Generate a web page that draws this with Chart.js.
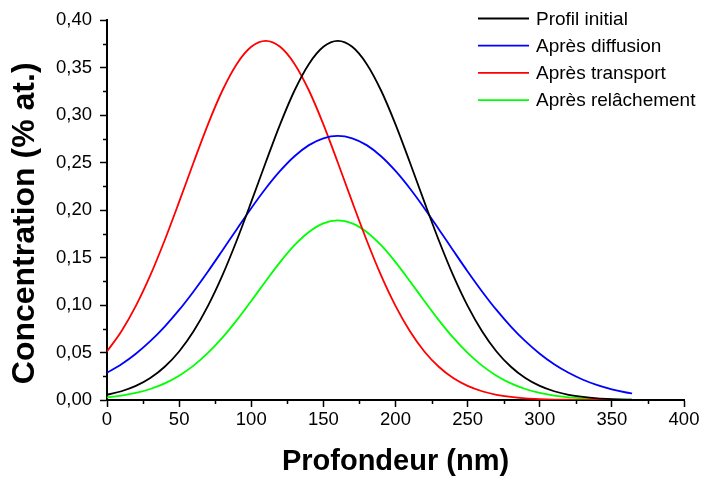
<!DOCTYPE html>
<html lang="fr">
<head>
    <meta charset="UTF-8">
    <title>Profils de concentration</title>
    <script src="https://cdn.jsdelivr.net/npm/chart.js"></script>
    <style>
        html, body { margin: 0; padding: 0; background: #fff; }
        canvas { display: block; }
    </style>
</head>
<body>
    <canvas id="profileChart" width="702" height="477"></canvas>

    <script>
        // Profondeur (nm)
        const depth = [0, 10, 20, 30, 40, 50, 60, 70, 80, 90, 100, 110, 120, 130, 140, 150, 160, 170, 180, 190,
                       200, 210, 220, 230, 240, 250, 260, 270, 280, 290, 300, 310, 320, 330, 340, 350, 360, 364];

        // Concentration (% at.)
        const profilInitial = [0.0055, 0.0092, 0.0148, 0.0231, 0.0350, 0.0511, 0.0724, 0.0991, 0.1312, 0.1682,
                               0.2085, 0.2500, 0.2902, 0.3258, 0.3538, 0.3718, 0.3780, 0.3718, 0.3538, 0.3258,
                               0.2902, 0.2500, 0.2085, 0.1682, 0.1312, 0.0991, 0.0724, 0.0511, 0.0350, 0.0231,
                               0.0148, 0.0092, 0.0055, 0.0032, 0.0018, 0.0010, 0.0005, 0.0004];
        const apresDiffusion = [0.0286, 0.0376, 0.0487, 0.0619, 0.0773, 0.0948, 0.1143, 0.1353, 0.1574, 0.1798,
                                0.2019, 0.2226, 0.2411, 0.2566, 0.2683, 0.2755, 0.2780, 0.2755, 0.2683, 0.2566,
                                0.2411, 0.2226, 0.2019, 0.1798, 0.1574, 0.1353, 0.1143, 0.0948, 0.0773, 0.0619,
                                0.0487, 0.0376, 0.0286, 0.0213, 0.0156, 0.0112, 0.0079, 0.0069];
        const apresTransport = [0.0511, 0.0724, 0.0991, 0.1312, 0.1682, 0.2085, 0.2500, 0.2902, 0.3258, 0.3538,
                                0.3718, 0.3780, 0.3718, 0.3538, 0.3258, 0.2902, 0.2500, 0.2085, 0.1682, 0.1312,
                                0.0991, 0.0724, 0.0511, 0.0350, 0.0231, 0.0148, 0.0092, 0.0055, 0.0032, 0.0018,
                                0.0010, 0.0005, 0.0003, 0.0001, 0.0001, 0.0000, 0.0000, 0.0000];
        const apresRelachement = [0.0028, 0.0046, 0.0074, 0.0116, 0.0175, 0.0256, 0.0362, 0.0496, 0.0656, 0.0841,
                                  0.1043, 0.1250, 0.1451, 0.1629, 0.1769, 0.1859, 0.1890, 0.1859, 0.1769, 0.1629,
                                  0.1451, 0.1250, 0.1043, 0.0841, 0.0656, 0.0496, 0.0362, 0.0256, 0.0175, 0.0116,
                                  0.0074, 0.0046, 0.0028, 0.0016, 0.0009, 0.0005, 0.0003, 0.0002];

        const seriesLabels = ['Profil initial', 'Après diffusion', 'Après transport', 'Après relâchement'];
        const seriesColors = ['#000000', '#0000FF', '#FF0000', '#00FF00'];
        const seriesValues = [profilInitial, apresDiffusion, apresTransport, apresRelachement];

        const xTickStep = 50, xMinorStep = 25;
        const yTickStep = 0.05, yMinorStep = 0.025;

        const FONT = '"Liberation Sans", Arial, sans-serif';

        // Short minor ticks between the labelled ones
        const minorTicks = {
            id: 'minorTicks',
            afterDraw(chart) {
                const ctx = chart.ctx;
                const xs = chart.scales.x, ys = chart.scales.y;
                ctx.save();
                ctx.strokeStyle = '#000';
                ctx.lineWidth = 1.5;
                ctx.beginPath();
                for (let v = xs.min + xMinorStep; v < xs.max; v += xTickStep) {
                    const px = Math.round(xs.getPixelForValue(v)) + 0.5;
                    ctx.moveTo(px, xs.top);
                    ctx.lineTo(px, xs.top + 4);
                }
                for (let v = ys.min + yMinorStep; v < ys.max; v += yTickStep) {
                    const py = Math.round(ys.getPixelForValue(v)) + 0.5;
                    ctx.moveTo(ys.right, py);
                    ctx.lineTo(ys.right - 4, py);
                }
                ctx.stroke();
                ctx.restore();
            }
        };

        // Legend in the top right corner, one row per series
        const cornerLegend = {
            id: 'cornerLegend',
            afterDraw(chart) {
                const ctx = chart.ctx;
                ctx.save();
                ctx.font = '19px ' + FONT;
                ctx.textBaseline = 'middle';
                ctx.fillStyle = '#000';
                chart.data.datasets.forEach((ds, i) => {
                    const y = 18.5 + i * 27.2;
                    ctx.strokeStyle = ds.borderColor;
                    ctx.lineWidth = 1.8;
                    ctx.beginPath();
                    ctx.moveTo(478, y);
                    ctx.lineTo(529, y);
                    ctx.stroke();
                    ctx.fillText(ds.label, 536, y + 1);
                });
                ctx.restore();
            }
        };

        const ctx = document.getElementById('profileChart').getContext('2d');
        new Chart(ctx, {
            type: 'line',
            data: {
                datasets: seriesValues.map((vals, i) => ({
                    label: seriesLabels[i],
                    data: depth.map((d, j) => ({ x: d, y: vals[j] })),
                    borderColor: seriesColors[i],
                    backgroundColor: seriesColors[i],
                    borderWidth: 1.8,
                    pointRadius: 0,
                    fill: false,
                    cubicInterpolationMode: 'monotone'
                }))
            },
            options: {
                responsive: false,
                animation: false,
                devicePixelRatio: 1,
                layout: { padding: { top: 20, right: 18, left: 0, bottom: 0 } },
                plugins: {
                    legend: { display: false },
                    tooltip: { enabled: false }
                },
                scales: {
                    x: {
                        type: 'linear',
                        min: 0,
                        max: 400,
                        afterFit: scale => { scale.height = 77; },
                        border: { color: '#000', width: 2 },
                        grid: { drawOnChartArea: false, tickLength: 7, tickColor: '#000', tickWidth: 1.5 },
                        ticks: {
                            stepSize: xTickStep,
                            color: '#000',
                            padding: 2,
                            maxRotation: 0,
                            font: { family: FONT, size: 18.5 }
                        },
                        title: {
                            display: true,
                            text: 'Profondeur (nm)',
                            color: '#000',
                            font: { family: FONT, size: 29, weight: 'bold', lineHeight: 1 },
                            padding: { top: 0, bottom: 1 }
                        }
                    },
                    y: {
                        min: 0,
                        max: 0.4,
                        afterFit: scale => { scale.width = 107; },
                        border: { color: '#000', width: 2 },
                        grid: { drawOnChartArea: false, tickLength: 7, tickColor: '#000', tickWidth: 1.5 },
                        ticks: {
                            stepSize: yTickStep,
                            color: '#000',
                            padding: 8,
                            font: { family: FONT, size: 18.5 },
                            callback: v => v.toFixed(2).replace('.', ',')
                        },
                        title: {
                            display: true,
                            text: 'Concentration (% at.)   ',
                            color: '#000',
                            font: { family: FONT, size: 32, weight: 'bold', lineHeight: 1 },
                            padding: { top: 9, bottom: 0 }
                        }
                    }
                }
            },
            plugins: [minorTicks, cornerLegend]
        });
    </script>
</body>
</html>
